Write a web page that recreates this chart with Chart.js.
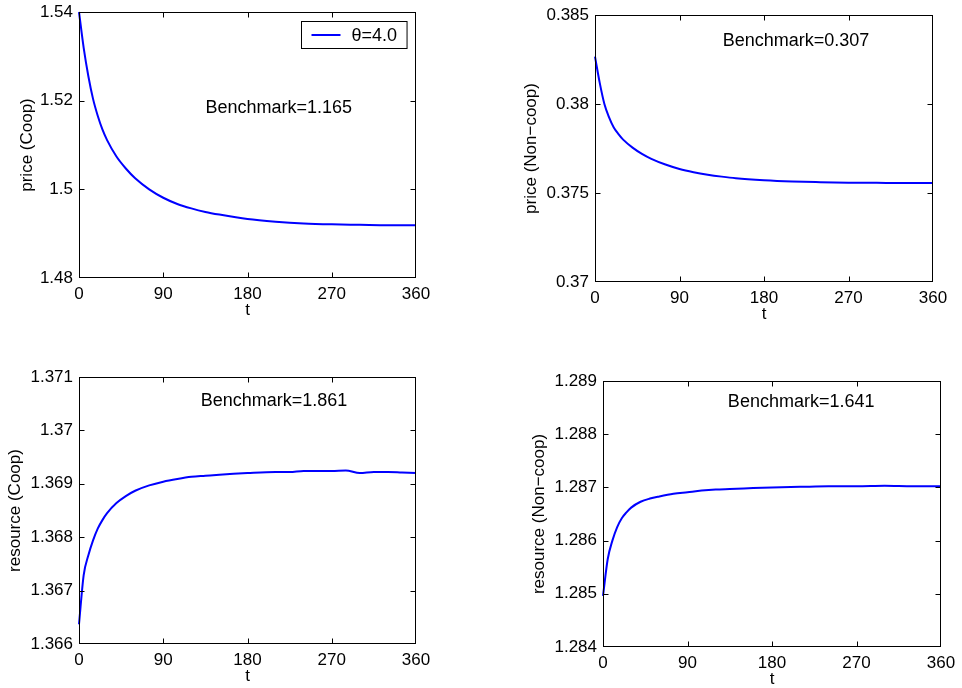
<!DOCTYPE html>
<html>
<head>
<meta charset="utf-8">
<title>price and resource paths</title>
<script src="https://cdn.jsdelivr.net/npm/chart.js@4.4.1/dist/chart.umd.min.js"></script>
<style>
  body { margin: 0; background: #fff; width: 962px; height: 688px; position: relative; overflow: hidden; }
  canvas { position: absolute; }
</style>
</head>
<body>
<canvas id="c1"></canvas>
<canvas id="c2"></canvas>
<canvas id="c3"></canvas>
<canvas id="c4"></canvas>
<script>
// x axis ticks, same for every panel
const xTicks = [0, 90, 180, 270, 360]

// time points
const tSteps = [0, 5, 10, 15, 20, 25, 30, 40, 50, 60, 75, 90, 105, 120, 135, 150, 180, 210, 240, 270, 300, 330, 360]
// the coop resource curve has a few wiggles near the end so it gets more points
const tStepsRes = [0, 5, 10, 15, 20, 25, 30, 40, 50, 60, 75, 90, 105, 120, 135, 150, 180, 210, 225, 240, 270, 285, 300, 315, 330, 345, 360]

// price (Coop)
const priceCoop = [1.5400, 1.5319, 1.5255, 1.5204, 1.5166, 1.5135, 1.5111, 1.5074, 1.5047, 1.5025, 1.5000, 1.4981,
  1.4967, 1.4957, 1.4949, 1.4943, 1.4933, 1.4927, 1.4923, 1.4921, 1.4920, 1.4919, 1.4919]
// price (Non-coop)
const priceNonCoop = [0.38266, 0.38120, 0.38000, 0.37925, 0.37868, 0.37831, 0.37800, 0.37755, 0.37720, 0.37692, 0.37660, 0.37635,
  0.37617, 0.37603, 0.37592, 0.37583, 0.37572, 0.37565, 0.37561, 0.37558, 0.37557, 0.37556, 0.37556]
// resource (Coop)
const resCoop = [1.36637, 1.36729, 1.36766, 1.36794, 1.36816, 1.36832, 1.36845, 1.36864, 1.36877, 1.36887, 1.36897, 1.36904,
  1.36909, 1.36913, 1.36915, 1.36917, 1.36920, 1.36922, 1.36922, 1.36924, 1.36924, 1.36925, 1.36920, 1.36922, 1.36922, 1.36921, 1.36920]
// resource (Non-coop)
const resNonCoop = [1.28496, 1.28565, 1.28600, 1.28625, 1.28642, 1.28653, 1.28662, 1.28673, 1.28679, 1.28683, 1.28688, 1.28691,
  1.28694, 1.28696, 1.28697, 1.28698, 1.28700, 1.28701, 1.28702, 1.28702, 1.28703, 1.28702, 1.28702]

// y ticks for each panel
const yTicksPriceCoop = [1.48, 1.50, 1.52, 1.54]
const yTicksPriceNonCoop = [0.370, 0.375, 0.380, 0.385]
const yTicksResCoop = [1.366, 1.367, 1.368, 1.369, 1.370, 1.371]
const yTicksResNonCoop = [1.284, 1.285, 1.286, 1.287, 1.288, 1.289]

const seriesLabel = "\u03b8=4.0"

Chart.defaults.font.family = "'Liberation Sans', Arial, sans-serif"
Chart.defaults.font.size = 17
Chart.defaults.color = '#000'

const YW = 75   // room left of the plot for tick labels + title
const XH = 43   // room under the plot
const PADT = 18 // top label sticks out above the box
const PADR = 25

// draws the matlab style box, inward ticks, benchmark text and legend
const boxTicks = {
  id: 'boxTicks',
  afterDatasetsDraw(chart, args, opts) {
    const ctx = chart.ctx
    const a = chart.chartArea
    const x = chart.scales.x, y = chart.scales.y
    const L = Math.round(a.left) + 0.5, R = Math.round(a.right) - 0.5
    const T = Math.round(a.top) + 0.5, B = Math.round(a.bottom) - 0.5
    ctx.save()
    ctx.strokeStyle = '#000'
    ctx.lineWidth = 1
    ctx.strokeRect(L, T, R - L, B - T)
    ctx.beginPath()
    x.ticks.forEach(function (tk) {
      const px = Math.round(x.getPixelForValue(tk.value)) + 0.5
      if (px <= L + 1 || px >= R - 1) return
      ctx.moveTo(px, B); ctx.lineTo(px, B - 5)
      ctx.moveTo(px, T); ctx.lineTo(px, T + 5)
    })
    y.ticks.forEach(function (tk) {
      const py = Math.round(y.getPixelForValue(tk.value)) + 0.5
      if (py <= T + 1 || py >= B - 1) return
      ctx.moveTo(L, py); ctx.lineTo(L + 5, py)
      ctx.moveTo(R, py); ctx.lineTo(R - 5, py)
    })
    ctx.stroke()

    // benchmark note
    ctx.fillStyle = '#000'
    ctx.font = "18px 'Liberation Sans', Arial, sans-serif"
    ctx.textAlign = 'left'
    ctx.textBaseline = 'middle'
    ctx.fillText(opts.bench, x.getPixelForValue(opts.benchT), y.getPixelForValue(opts.benchV))

    // legend only on the first panel
    if (opts.legend) {
      const ds = chart.data.datasets[0]
      const tw = ctx.measureText(ds.label).width
      const bw = 10 + 29 + 11 + tw + 10
      const bx = Math.round(a.right - 9 - bw) + 0.5, by = Math.round(a.top + 9) + 0.5
      const bh = 27
      ctx.fillStyle = '#fff'
      ctx.fillRect(bx, by, bw, bh)
      ctx.strokeRect(bx, by, bw, bh)
      ctx.strokeStyle = ds.borderColor
      ctx.lineWidth = 2
      ctx.beginPath()
      ctx.moveTo(bx + 10, by + bh / 2); ctx.lineTo(bx + 39, by + bh / 2)
      ctx.stroke()
      ctx.fillStyle = '#000'
      ctx.fillText(ds.label, bx + 50, by + bh / 2 + 1)
    }
    ctx.restore()
  }
}

function makePanel(cfg) {
  const cv = document.getElementById(cfg.id)
  cv.width = YW + cfg.w + PADR
  cv.height = PADT + cfg.h + XH
  cv.style.left = (cfg.left - YW) + 'px'
  cv.style.top = (cfg.top - PADT) + 'px'
  const pts = cfg.t.map(function (t, i) { return { x: t, y: cfg.v[i] } })
  return new Chart(cv, {
    type: 'line',
    data: {
      datasets: [{
        label: seriesLabel,
        data: pts,
        borderColor: '#0000ff',
        borderWidth: 2,
        pointRadius: 0,
        cubicInterpolationMode: 'monotone',
        fill: false,
        clip: 5
      }]
    },
    options: {
      responsive: false,
      animation: false,
      events: [],
      layout: { padding: { top: PADT, right: PADR, left: 0, bottom: 0 } },
      plugins: { legend: { display: false }, tooltip: { enabled: false }, boxTicks: cfg },
      scales: {
        x: {
          type: 'linear', min: 0, max: 360,
          afterBuildTicks: function (s) { s.ticks = xTicks.map(function (v) { return { value: v } }) },
          afterFit: function (s) { s.height = XH },
          grid: { display: false, drawTicks: false },
          border: { display: false },
          ticks: { padding: 6, maxRotation: 0, autoSkip: false },
          title: { display: true, text: 't', padding: 0 }
        },
        y: {
          type: 'linear', min: cfg.yTicks[0], max: cfg.yTicks[cfg.yTicks.length - 1],
          afterBuildTicks: function (s) { s.ticks = cfg.yTicks.map(function (v) { return { value: v } }) },
          afterFit: function (s) { s.width = YW },
          grid: { display: false, drawTicks: false },
          border: { display: false },
          ticks: { padding: 6, autoSkip: false, callback: function (v) { return String(+v.toFixed(6)) } },
          title: { display: true, text: cfg.yTitle, padding: { top: cfg.titlePad, bottom: 0 } }
        }
      }
    },
    plugins: [boxTicks]
  })
}

makePanel({ id: 'c1', left: 79, top: 12, w: 337, h: 266, t: tSteps, v: priceCoop, yTicks: yTicksPriceCoop,
  yTitle: 'price (Coop)', titlePad: 13, bench: 'Benchmark=1.165', benchT: 135, benchV: 1.5183, legend: true })
makePanel({ id: 'c2', left: 595, top: 15, w: 338, h: 267, t: tSteps, v: priceNonCoop, yTicks: yTicksPriceNonCoop,
  yTitle: 'price (Non\u2212coop)', titlePad: 1, bench: 'Benchmark=0.307', benchT: 136, benchV: 0.38356, legend: false })
makePanel({ id: 'c3', left: 79, top: 377, w: 337, h: 267, t: tStepsRes, v: resCoop, yTicks: yTicksResCoop,
  yTitle: 'resource (Coop)', titlePad: 1, bench: 'Benchmark=1.861', benchT: 130, benchV: 1.37055, legend: false })
makePanel({ id: 'c4', left: 603, top: 381, w: 338, h: 266, t: tSteps, v: resNonCoop, yTicks: yTicksResNonCoop,
  yTitle: 'resource (Non\u2212coop)', titlePad: 1, bench: 'Benchmark=1.641', benchT: 133, benchV: 1.2886, legend: false })
</script>
</body>
</html>
